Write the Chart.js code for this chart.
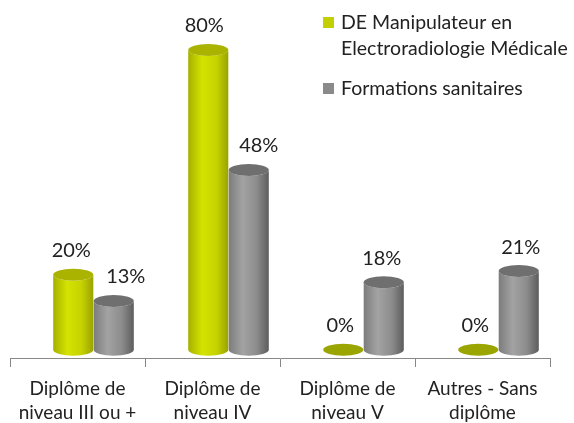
<!DOCTYPE html>
<html>
<head>
<meta charset="utf-8">
<script src="https://cdn.jsdelivr.net/npm/chart.js"></script>
<style>
body{margin:0;background:#fff;}
#wrap{position:relative;width:574px;height:423px;}
#legend{position:absolute;left:323px;top:9px;font-family:Lato, "Open Sans", sans-serif;font-size:19.5px;color:#222;line-height:26px;}
.item{display:flex;align-items:flex-start;margin-bottom:14px;}
.box{width:11px;height:11px;margin-right:7px;margin-top:8px;flex:none;}
</style>
</head>
<body>
<div id="wrap">
  <canvas id="chart" width="574" height="423"></canvas>
  <div id="legend"></div>
</div>
<script>
// ================= DATA =================
const categories = [
  ["Diplôme de", "niveau III ou +"],
  ["Diplôme de", "niveau IV"],
  ["Diplôme de", "niveau V"],
  ["Autres - Sans", "diplôme"]
];
const seriesNames = [
  ["DE Manipulateur en", "Electroradiologie Médicale"],
  ["Formations sanitaires"]
];
const deValues = [20, 80, 0, 0];
const sanitairesValues = [13, 48, 18, 21];

// ================= STYLE =================
const looks = [
  { stops: ["#a6b000", "#d4e300", "#c6d300", "#9aa300"], cap: "#a9b300", flat: "#9aa500", key: "#c2cf00", labelDx: [-2, -4, -3, -3] },
  { stops: ["#7c7c7c", "#a3a3a3", "#8c8c8c", "#5d5d5d"], cap: "#6f6f6f", flat: "#6f6f6f", key: "#8a8a8a", labelDx: [12, 10, -2, 2] }
];
const SHIFT = 16; // 3D depth offset of the bars
const RY = 6;
const FONT = "Lato, 'Open Sans', sans-serif";

// ================= CYLINDERS =================
const cylinders = {
  id: "cylinders",
  afterDatasetsDraw(chart){
    const ctx = chart.ctx;
    chart.data.datasets.forEach((ds, di) => {
      const look = looks[di];
      chart.getDatasetMeta(di).data.forEach((bar, i) => {
        const x = bar.x + SHIFT;
        const rx = bar.width / 2;
        const top = bar.y;
        const base = bar.base;
        const left = x - rx, right = x + rx;

        ctx.save();
        if(base - top < 1){
          ctx.fillStyle = look.flat;
          ctx.beginPath();
          ctx.ellipse(x, base, rx, RY, 0, 0, Math.PI * 2);
          ctx.fill();
        } else {
          const g = ctx.createLinearGradient(left, 0, right, 0);
          g.addColorStop(0, look.stops[0]);
          g.addColorStop(0.35, look.stops[1]);
          g.addColorStop(0.7, look.stops[2]);
          g.addColorStop(1, look.stops[3]);
          ctx.fillStyle = g;
          ctx.beginPath();
          ctx.moveTo(left, top);
          ctx.lineTo(left, base);
          ctx.ellipse(x, base, rx, RY, 0, Math.PI, 0, true);
          ctx.lineTo(right, top);
          ctx.ellipse(x, top, rx, RY, 0, 0, Math.PI, false);
          ctx.closePath();
          ctx.fill();

          ctx.fillStyle = look.cap;
          ctx.beginPath();
          ctx.ellipse(x, top, rx, RY, 0, 0, Math.PI * 2);
          ctx.fill();
        }

        // value label
        ctx.fillStyle = "#222";
        ctx.font = "20px " + FONT;
        ctx.textAlign = "center";
        ctx.textBaseline = "middle";
        ctx.fillText(ds.data[i] + "%", x + look.labelDx[i], top - 24);
        ctx.restore();
      });
    });
  }
};

// ================= CHART =================
const chart = new Chart(document.getElementById("chart"), {
  type: "bar",
  data: {
    labels: categories,
    datasets: [
      { label: seriesNames[0].join(" "), data: deValues, backgroundColor: "rgba(0,0,0,0)" },
      { label: seriesNames[1].join(" "), data: sanitairesValues, backgroundColor: "rgba(0,0,0,0)" }
    ]
  },
  options: {
    responsive: false,
    animation: false,
    layout: { padding: { top: 35, right: 24, left: 10, bottom: 0 } },
    datasets: { bar: { categoryPercentage: 0.6, barPercentage: 0.99 } },
    plugins: {
      legend: { display: false },
      tooltip: { enabled: false }
    },
    scales: {
      x: {
        afterFit(scale){ scale.height = 65; },
        border: { display: true, color: "#888", width: 1 },
        grid: { display: true, drawOnChartArea: false, drawTicks: true, tickLength: 9, color: "#888", offset: true },
        ticks: {
          color: "#222",
          padding: 10,
          maxRotation: 0,
          font: { family: FONT, size: 19, lineHeight: 1.27 }
        }
      },
      y: {
        display: false,
        min: -2.2,
        max: 84
      }
    }
  },
  plugins: [cylinders]
});

// ================= LEGEND =================
const legend = document.getElementById("legend");
seriesNames.forEach((name, i) => {
  legend.innerHTML += `<div class="item"><div class="box" style="background:${looks[i].key}"></div><div>${name.join("<br>")}</div></div>`;
});
</script>
</body>
</html>
